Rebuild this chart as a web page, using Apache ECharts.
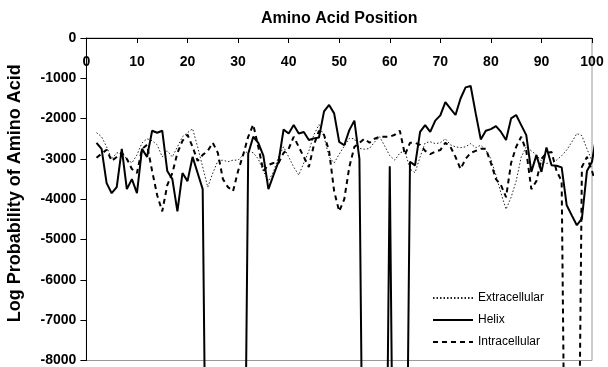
<!DOCTYPE html>
<html>
<head>
<meta charset="utf-8">
<script src="https://cdn.jsdelivr.net/npm/echarts@6/dist/echarts.min.js"></script>
<style>
html,body{margin:0;padding:0;background:#fff;}
#c{width:608px;height:367px;}
</style>
</head>
<body>
<div id="c"></div>
<script>
// Amino acid positions (x values)
const positions = [2,3,4,5,6,7,8,9,10,11,12,13,14,15,16,17,18,19,20,21,22,23,24,25,26,27,28,29,30,31,32,33,34,35,36,37,38,39,40,41,42,43,44,45,46,47,48,49,50,51,52,53,54,55,56,57,58,59,60,61,62,63,64,65,66,67,68,69,70,71,72,73,74,75,76,77,78,79,80,81,82,83,84,85,86,87,88,89,90,91,92,93,94,95,96,97,98,99,100,101];

// log(0) stand-in: the curve plunges off the chart
const Z = -16000;

const extracellular = [-2350,-2450,-2700,-3000,-2850,-2850,-3000,-3100,-2900,-2600,-2500,-2550,-2650,-2950,-2800,-2950,-2700,-2450,-2350,-2250,-2700,-3200,-3700,-3350,-3050,-3030,-3070,-3030,-3030,-2900,-2800,-2850,-3000,-3300,-3550,-3320,-2950,-2700,-2950,-3200,-3400,-3100,-2800,-2400,-2150,-2450,-2950,-3100,-2880,-2680,-2490,-2500,-2740,-2760,-2740,-2580,-2450,-2680,-2920,-3030,-2850,-2800,-3250,-3340,-2950,-2600,-2575,-2620,-2600,-2500,-2650,-2700,-2720,-2700,-2620,-2720,-2660,-2780,-3000,-3400,-3850,-4250,-3950,-3550,-2950,-2700,-2800,-2900,-3050,-3110,-3100,-3030,-2920,-2780,-2580,-2370,-2420,-2750,-3050,-3150];

const helix = [-2600,-2750,-3600,-3850,-3700,-2750,-3750,-3500,-3850,-2750,-2950,-2300,-2350,-2300,-3300,-3500,-4300,-3350,-3550,-2950,-3350,-3750,Z,Z,Z,Z,Z,Z,Z,Z,-2870,-2450,-2600,-2920,-3750,-3400,-3070,-2270,-2370,-2160,-2370,-2330,-2530,-2490,-2470,-1820,-1660,-1870,-2575,-2660,-2285,-2050,-3000,Z,Z,Z,Z,Z,-3180,Z,Z,Z,-3070,-3160,-2330,-2160,-2330,-2050,-1920,-1590,-1750,-1910,-1500,-1225,-1190,-1870,-2515,-2300,-2260,-2185,-2330,-2530,-1995,-1910,-2160,-2410,-3320,-2905,-3320,-2715,-3155,-3170,-3210,-4150,-4400,-4645,-4480,-3300,-3070,-2310];

const intracellular = [-2970,-2870,-2770,-3050,-2950,-2850,-3000,-3250,-3350,-2750,-2650,-3300,-3900,-4300,-3650,-3350,-2850,-2550,-2400,-2700,-3050,-2900,-2800,-2600,-2850,-3500,-3700,-3800,-3300,-2900,-2450,-2150,-2700,-3300,-3150,-3100,-3100,-2850,-2750,-2450,-2700,-2950,-3200,-2650,-2300,-2400,-2800,-3800,-4300,-4000,-3200,-2700,-2600,-2500,-2600,-2500,-2450,-2450,-2450,-2400,-2300,-2900,-2600,-2600,-2650,-2800,-2880,-2820,-2780,-2600,-2700,-2950,-3250,-3000,-2850,-2800,-2750,-2750,-3100,-3500,-3650,-3950,-3100,-2700,-2450,-2800,-3750,-3550,-3000,-2850,-2830,-3300,-3550,Z,Z,Z,-3200,-2950,-3300,-3700];

const seriesNames = ['Extracellular','Helix','Intracellular'];
const xMin = 0, xMax = 100, xStep = 10;
const yMin = -8000, yMax = 0, yStep = 1000;

const FONT = 'Liberation Sans, Arial, sans-serif';
const pairs = arr => positions.map((p, i) => [p, arr[i]]);

const chart = echarts.init(document.getElementById('c'), null, {renderer: 'canvas'});
chart.setOption({
  animation: false,
  backgroundColor: '#fff',
  grid: {left: 86.4, right: 16, top: 38, bottom: 6.5, outerBoundsMode: 'none', containLabel: false,
         show: true, borderColor: '#9a9a9a', borderWidth: 1, backgroundColor: 'transparent'},
  xAxis: {
    type: 'value', position: 'top', min: xMin, max: xMax, interval: xStep,
    name: 'Amino Acid Position', nameLocation: 'middle', nameGap: 11,
    nameTextStyle: {fontFamily: FONT, fontWeight: 'bold', fontSize: 16, color: '#000'},
    axisLine: {show: true, onZero: false, lineStyle: {color: '#000', width: 1}},
    axisTick: {show: true, inside: true, length: 5, lineStyle: {color: '#000'}},
    axisLabel: {inside: true, margin: 17, fontFamily: FONT, fontWeight: 'bold', fontSize: 14, color: '#000',
                showMinLabel: true, showMaxLabel: true, formatter: v => String(v)},
    splitLine: {show: false}
  },
  yAxis: {
    type: 'value', min: yMin, max: yMax, interval: yStep,
    name: 'Log Probability of Amino Acid', nameLocation: 'middle', nameGap: 62, nameRotate: 90,
    nameTextStyle: {fontFamily: FONT, fontWeight: 'bold', fontSize: 18, color: '#000', padding: [0, 0, 0, 12]},
    axisLine: {show: true, onZero: false, lineStyle: {color: '#000', width: 1}},
    axisTick: {show: true, length: 6, lineStyle: {color: '#000'}},
    axisLabel: {margin: 10, fontFamily: FONT, fontWeight: 'bold', fontSize: 14, color: '#000', formatter: v => String(v)},
    splitLine: {show: false}
  },
  legend: {
    orient: 'vertical', left: 427, top: 287, itemWidth: 40, itemHeight: 14, itemGap: 10,
    data: seriesNames,
    itemStyle: {opacity: 0},
    textStyle: {fontFamily: FONT, fontSize: 12, color: '#000'}
  },
  series: [
    {name: seriesNames[0], type: 'line', data: pairs(extracellular), symbol: 'none', clip: false,
     lineStyle: {color: '#222', width: 1, type: [1.5, 2]}, itemStyle: {color: '#222'}},
    {name: seriesNames[1], type: 'line', data: pairs(helix), symbol: 'none', clip: false,
     lineStyle: {color: '#000', width: 2, type: 'solid'}, itemStyle: {color: '#000'}},
    {name: seriesNames[2], type: 'line', data: pairs(intracellular), symbol: 'none', clip: false,
     lineStyle: {color: '#000', width: 2, type: [5, 4]}, itemStyle: {color: '#000'}}
  ]
});
</script>
</body>
</html>
